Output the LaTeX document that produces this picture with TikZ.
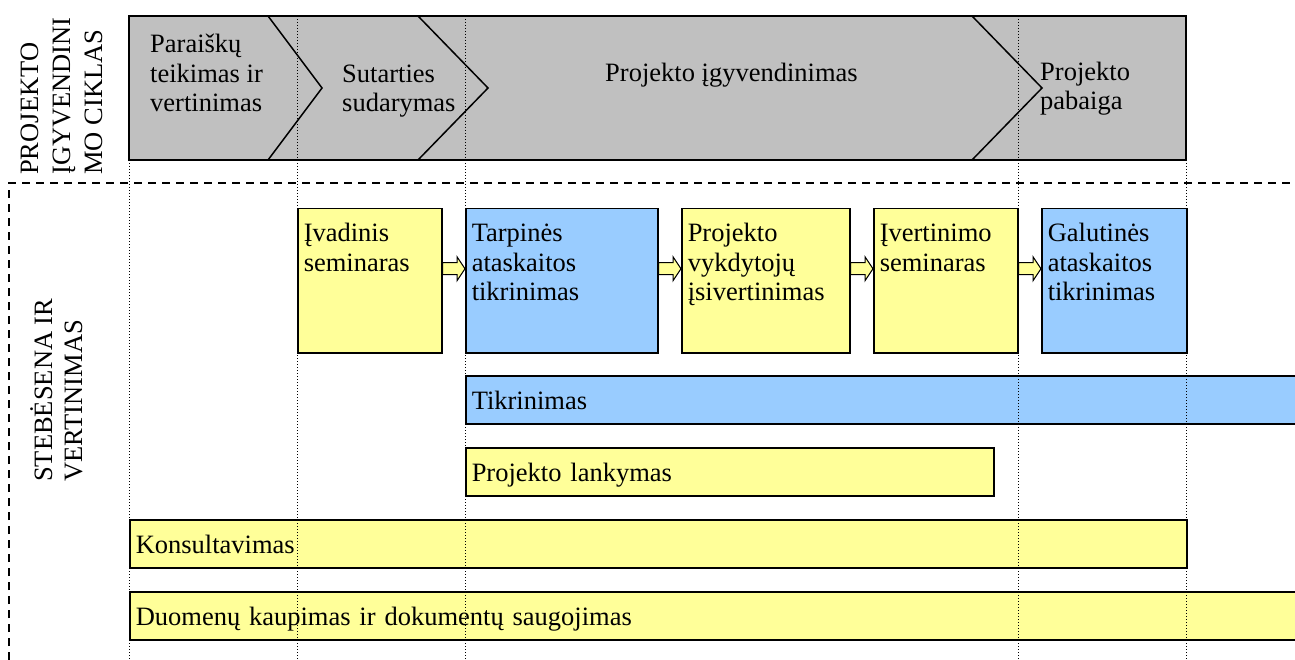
\documentclass[tikz,border=0pt]{standalone}
\usepackage{fontspec}
\setmainfont{Liberation Serif}
\usetikzlibrary{calc}
\definecolor{bandgray}{HTML}{C0C0C0}
\definecolor{paleyellow}{HTML}{FFFF99}
\definecolor{paleblue}{HTML}{99CCFF}

\begin{document}
\begin{tikzpicture}[x=1pt,y=-1pt,
  every node/.style={font=\fontsize{26.5}{29.5}\selectfont,inner sep=0pt},
  stage/.style={anchor=base west,align=left},
  card/.style={draw,line width=1.5pt,anchor=north west,inner xsep=6pt,inner ysep=0pt,align=left,text height=33pt,text depth=111pt},
  bar/.style={draw,line width=1.5pt,anchor=west,inner xsep=6pt,inner ysep=0pt,minimum height=48pt,text height=18pt,text depth=0pt,align=left},
  arrowbox/.style={draw,line width=1pt,fill=paleyellow},
  gridline/.style={line width=1pt,dash pattern=on 1pt off 2pt},
  sepline/.style={line width=1.5pt,dash pattern=on 8pt off 6pt}]
\useasboundingbox (0,0) rectangle (1295,660);

% project cycle band
\draw[line width=1.5pt,fill=bandgray] (129,16) rectangle (1186,160);
\draw[line width=1.5pt] (268,16) -- (322,88) -- (268,160);
\draw[line width=1.5pt] (418,16) -- (488,88) -- (418,160);
\draw[line width=1.5pt] (972,16) -- (1042,88) -- (972,160);

% stage labels sit on their last baseline
\node[stage] (parai) at (150,112) {Paraiškų\\teikimas ir\\vertinimas};
\node[stage] (sutar) at (342,112) {Sutarties\\sudarymas};
\node[stage] (igyv) at (605,82) {Projekto įgyvendinimas};
\node[stage] (pabai) at (1040,110) {Projekto\\pabaiga};

\node[stage,rotate=90,font=\fontsize{26.5}{32}\selectfont] (cikl) at (102,175) {PROJEKTO\\ĮGYVENDINI\\MO CIKLAS};
\node[stage,rotate=90,font=\fontsize{26.5}{30}\selectfont] (steb) at (82,482) {STEBĖSENA IR\\VERTINIMAS};

\draw[sepline] (9,660) -- (9,183) -- (1295,183);

% monitoring steps
\node[card,fill=paleyellow,text width=132pt] (ivad) at (297,208) {Įvadinis\\seminaras};
\node[card,fill=paleblue,text width=180pt] (tarp) at (465,208) {Tarpinės\\ataskaitos\\tikrinimas};
\node[card,fill=paleyellow,text width=156pt] (vykd) at (681,208) {Projekto\\vykdytojų\\įsivertinimas};
\node[card,fill=paleyellow,text width=132pt] (ivert) at (873,208) {Įvertinimo\\seminaras};
\node[card,fill=paleblue,text width=133pt] (galut) at (1041,208) {Galutinės\\ataskaitos\\tikrinimas};

\foreach \a/\b in {ivad/tarp,tarp/vykd,vykd/ivert,ivert/galut}
  \draw[arrowbox] ($(\a.east)+(0,-18)$) -- ($(\b.west)+(-8,-18)$) -- ($(\b.west)+(-8,-24)$)
    -- ($(\b.west)+(0,-12)$) -- ($(\b.west)+(-8,0)$) -- ($(\b.west)+(-8,-6)$)
    -- ($(\a.east)+(0,-6)$) -- cycle;

\node[bar,fill=paleblue,text width=823pt] (tikr) at (465,400) {Tikrinimas};
\node[bar,fill=paleyellow,text width=516pt] (lank) at (465,472) {Projekto lankymas};
\node[bar,fill=paleyellow,text width=1045pt] (kons) at (129,544) {Konsultavimas};
\node[bar,fill=paleyellow,text width=1159pt] (duom) at (129,616) {Duomenų kaupimas ir dokumentų saugojimas};

% phase borders
\foreach \x in {129,297,465,1018,1186}
  \draw[gridline] (\x,16) -- (\x,660);
\end{tikzpicture}
\end{document}
